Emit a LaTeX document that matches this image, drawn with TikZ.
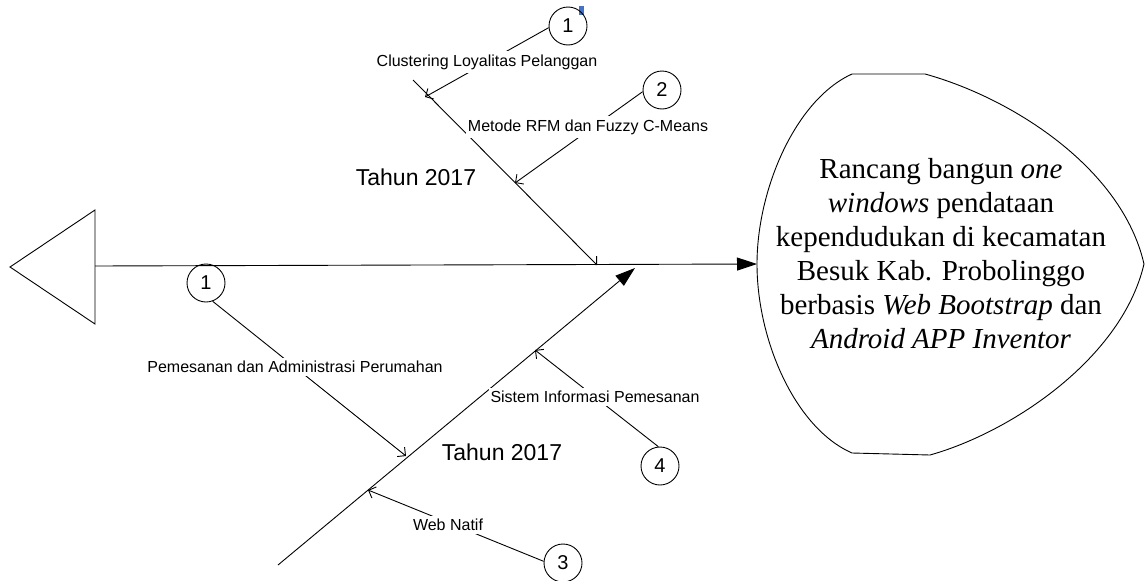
\documentclass[tikz,border=0pt]{standalone}
\usepackage{fontspec}
\setmainfont{Liberation Serif}
\setsansfont{Liberation Sans}
\usetikzlibrary{arrows.meta}

\definecolor{markblue}{RGB}{68,114,196}
\tikzset{
  num/.style={draw,circle,line width=0.9pt,minimum size=38pt,inner sep=0pt,font=\sffamily\fontsize{20}{20}\selectfont},
  cause/.style={fill=white,inner xsep=2pt,inner ysep=3.5pt,font=\sffamily\fontsize{16}{18}\selectfont},
  year/.style={font=\sffamily\fontsize{23}{26}\selectfont},
  bone/.style={line width=0.9pt,-{Straight Barb[length=6pt,width=12pt]}},
  spine/.style={line width=0.9pt,-{Triangle[length=20pt,width=13pt]}}
}

\begin{document}
\begin{tikzpicture}[x=1pt,y=-1pt]
  \useasboundingbox (0,0) rectangle (1146,581);
  %\draw[help lines,step=50] (0,0) grid (1146,581);

  % tail and head
  \draw[line width=0.9pt] (95,210) -- (10,267) -- (95,324) -- cycle;
  \draw[line width=0.9pt] (852,74) -- (925,74) .. controls (1012,98) and (1122,168) .. (1144,264)
    .. controls (1122,358) and (1012,432) .. (930,455) -- (852,453)
    .. controls (795,428) and (757,340) .. (757,264)
    .. controls (757,190) and (795,100) .. (852,74);
  \node[align=center,font=\fontsize{29}{34}\selectfont] (goal) at (941,254)
    {Rancang bangun \textit{one}\\ \textit{windows} pendataan\\ kependudukan di kecamatan\\
     Besuk Kab. Probolinggo\\ berbasis \textit{Web Bootstrap} dan\\ \textit{Android APP Inventor}};
  \fill[markblue] (579,6) rectangle (584,15);

  \foreach \n/\x/\y in {tail/95/266, head/757/264, topA/413/80, topB/597/265, lowA/278/565,
    lowB/635/268, t1/425/97, t2/515/183, t5/406/456, t4/535/350, t3/368/490}
  \coordinate (\n) at (\x,\y);

  \foreach \n/\x/\y/\t in {n1/568/26/1, n2/662/90/2, n5/206/283/1, n4/660/466/4, n3/563/563/3}
  \node[num] (\n) at (\x,\y) {\t};

  \draw[spine] (tail) -- (head);
  \draw[spine] (lowA) -- (lowB);
  \draw[bone] (topA) -- (topB);
  \foreach \s/\t in {n1.185/t1, n2.185/t2, n5.290/t5, n4.95/t4, n3.175/t3}
    \draw[bone] (\s) to (\t);

  \node[cause] (clus) at (487,62) {Clustering Loyalitas Pelanggan};
  \node[cause] (rfm) at (588,127) {Metode RFM dan Fuzzy C-Means};
  \node[cause] (pesan) at (295,367) {Pemesanan dan Administrasi Perumahan};
  \node[cause] (sis) at (595,397) {Sistem Informasi Pemesanan};
  \node[cause] (natif) at (448,525) {Web Natif};
  \node[year] (yr1) at (416,177) {Tahun 2017};
  \node[year] (yr2) at (502,452) {Tahun 2017};

\end{tikzpicture}
\end{document}
